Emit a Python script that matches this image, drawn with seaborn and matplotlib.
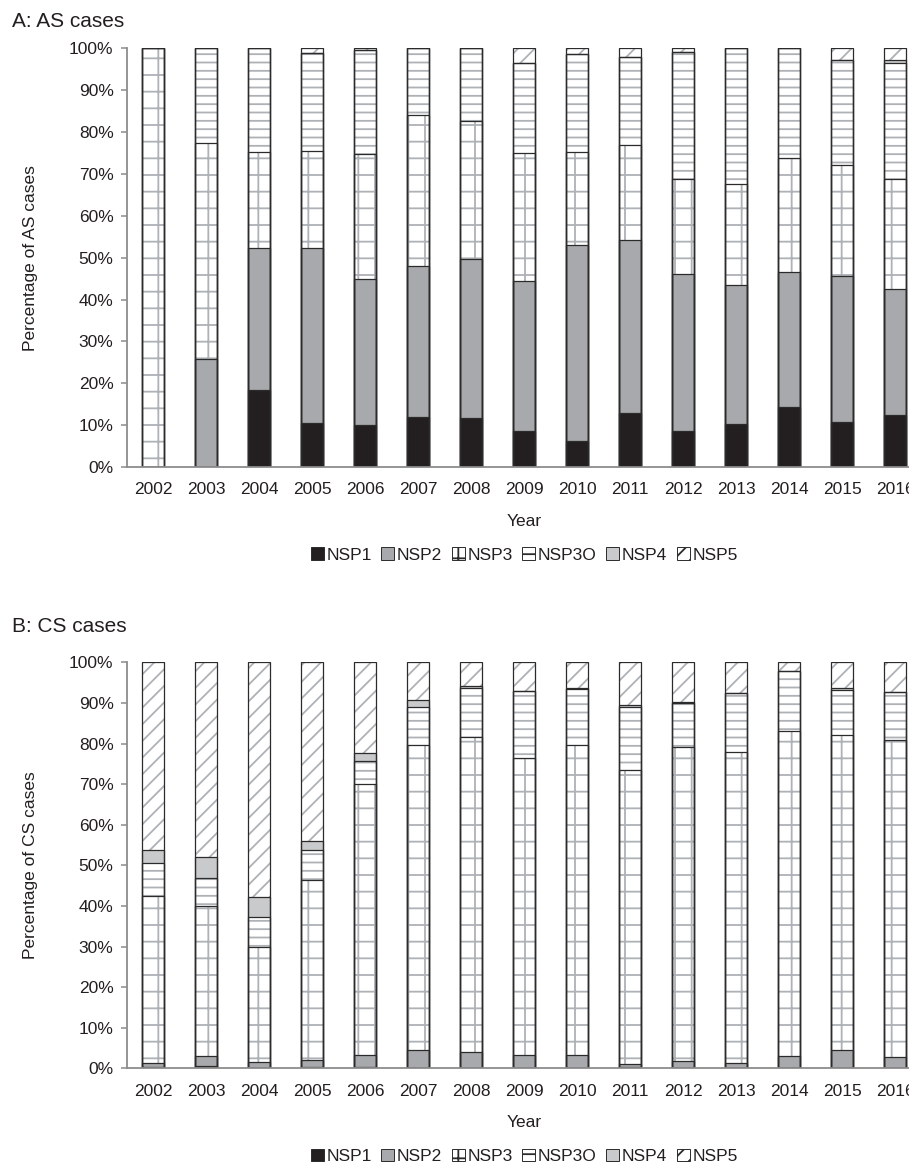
import pandas as pd
import matplotlib
matplotlib.use('Agg')
import matplotlib.pyplot as plt
from matplotlib.patches import Patch, Rectangle
import seaborn as sns

# Data: share (%) of each NSP type per year
years = ['2002', '2003', '2004', '2005', '2006', '2007', '2008', '2009',
         '2010', '2011', '2012', '2013', '2014', '2015', '2016']
series = ['NSP1', 'NSP2', 'NSP3', 'NSP3O', 'NSP4', 'NSP5']

# A: AS cases
as_nsp1 = [0, 0, 18.5, 10.5, 10.0, 12.0, 11.6, 8.7, 6.2, 13.0, 8.6, 10.3, 14.3, 10.8, 12.5]
as_nsp2 = [0, 25.8, 33.8, 41.8, 35.0, 36.0, 38.0, 35.7, 46.8, 41.1, 37.5, 33.1, 32.3, 34.7, 29.9]
as_nsp3 = [100, 51.7, 23.0, 23.2, 29.8, 36.0, 33.1, 30.6, 22.2, 22.8, 22.6, 24.1, 27.2, 26.7, 26.4]
as_nsp3o = [0, 22.5, 24.7, 23.3, 24.7, 16.0, 17.3, 21.5, 23.4, 21.1, 30.3, 32.5, 26.2, 24.9, 27.7]
as_nsp4 = [0, 0, 0, 0, 0.2, 0, 0, 0, 0, 0, 0, 0, 0, 0, 0.7]
as_nsp5 = [0, 0, 0, 1.2, 0.3, 0, 0, 3.5, 1.4, 2.0, 1.0, 0, 0, 2.9, 2.8]

# B: CS cases
cs_nsp1 = [0.3, 0.6, 0, 0.4, 0.3, 0, 0, 0, 0, 0.3, 0, 0, 0, 0, 0]
cs_nsp2 = [0.9, 2.5, 1.6, 1.6, 3.1, 4.4, 4.1, 3.4, 3.4, 0.7, 1.7, 1.3, 3.1, 4.4, 2.7]
cs_nsp3 = [41.3, 36.9, 28.3, 44.5, 66.7, 75.3, 77.6, 73.0, 76.2, 72.4, 77.4, 76.7, 80.1, 77.7, 78.2]
cs_nsp3o = [8.0, 6.9, 7.3, 7.2, 5.6, 9.3, 12.0, 16.6, 13.8, 15.6, 10.8, 14.4, 14.6, 11.1, 11.9]
cs_nsp4 = [3.3, 5.1, 5.1, 2.4, 1.9, 1.7, 0.4, 0, 0.3, 0.4, 0.4, 0, 0, 0.4, 0]
cs_nsp5 = [46.2, 48.0, 57.7, 43.9, 22.4, 9.3, 5.9, 7.0, 6.3, 10.6, 9.7, 7.6, 2.2, 6.4, 7.2]

pct_ticks = [0, 10, 20, 30, 40, 50, 60, 70, 80, 90, 100]
pct_labels = ['0%', '10%', '20%', '30%', '40%', '50%', '60%', '70%', '80%', '90%', '100%']

fills = {'NSP1': '#231f20', 'NSP2': '#a7a9ac', 'NSP3': 'white',
         'NSP3O': 'white', 'NSP4': '#c9cacc', 'NSP5': 'white'}
hatches = {'NSP1': None, 'NSP2': None, 'NSP3': '+', 'NSP3O': '--',
           'NSP4': None, 'NSP5': '//'}
hatch_grey = '#aeb2b6'
edge_col = '#2b2b2b'
axis_grey = '#8c8c8c'
text_col = '#231f20'

sns.set_theme(style='white')
plt.rcParams['font.family'] = ['Liberation Sans', 'DejaVu Sans']
plt.rcParams['hatch.linewidth'] = 1.3

fig = plt.figure(figsize=(9.09, 11.64), dpi=100)


def draw_panel(ax, cols, ylabel, title, title_y):
    df = pd.DataFrame(dict(zip(series, cols)), index=years)
    cum = df.cumsum(axis=1)
    # stacked bars: draw cumulative totals from top segment down
    for name in reversed(series):
        sub = pd.DataFrame({'year': years, 'cum': cum[name].values})
        n0 = len(ax.patches)
        sns.barplot(data=sub, x='year', y='cum', order=years, color=fills[name],
                    saturation=1, width=0.42, errorbar=None, ax=ax)
        for p in ax.patches[n0:]:
            p.set_facecolor(fills[name])
            p.set_hatch(hatches[name])
            p.set_edgecolor(hatch_grey)  # hatch takes the edge colour
            p.set_linewidth(0)
    # dark outlines on top of every segment
    for p in list(ax.patches):
        ax.add_patch(Rectangle(p.get_xy(), p.get_width(), p.get_height(),
                               fill=False, edgecolor=edge_col, linewidth=0.9))

    ax.set_xlim(-0.5, len(years) - 0.5)
    ax.set_ylim(0, 100)
    ax.set_yticks(pct_ticks)
    ax.set_yticklabels(pct_labels)
    sns.despine(ax=ax)
    for s in ['left', 'bottom']:
        ax.spines[s].set_color(axis_grey)
        ax.spines[s].set_linewidth(1.3)
    ax.tick_params(axis='y', direction='out', length=4.5, width=1.1, color=axis_grey,
                   labelsize=12.5, labelcolor=text_col, pad=5, left=True)
    ax.tick_params(axis='x', length=0, labelsize=12.5, labelcolor=text_col, pad=11)

    h = ax.get_position().height * fig.get_figheight() * fig.dpi
    ax.set_xlabel('Year', fontsize=12.5, color=text_col, va='top')
    ax.xaxis.set_label_coords(0.5, -47 / h)
    ax.set_ylabel(ylabel, fontsize=12.5, color=text_col)
    ax.yaxis.set_label_coords(-0.112, 0.5)

    handles = [Patch(facecolor=fills[n], hatch=hatches[n], edgecolor=edge_col,
                     linewidth=0.7, label=n) for n in series]
    ax.legend(handles=handles, loc='center', bbox_to_anchor=(0.5, -88 / h), ncol=6,
              frameon=False, fontsize=12.5, handlelength=0.75, handleheight=0.75,
              handletextpad=0.15, columnspacing=0.55, labelcolor=text_col)

    fig.text(12 / 909, title_y, title, fontsize=15, color=text_col, va='baseline')


ax_a = fig.add_axes([0.1394, 0.5988, 0.8746, 0.3597])
draw_panel(ax_a, [as_nsp1, as_nsp2, as_nsp3, as_nsp3o, as_nsp4, as_nsp5],
           'Percentage of AS cases', 'A: AS cases', 1 - 27 / 1164)

ax_b = fig.add_axes([0.1394, 0.0822, 0.8746, 0.3488])
draw_panel(ax_b, [cs_nsp1, cs_nsp2, cs_nsp3, cs_nsp3o, cs_nsp4, cs_nsp5],
           'Percentage of CS cases', 'B: CS cases', 1 - 632 / 1164)

fig.savefig('out.png', dpi=100)
